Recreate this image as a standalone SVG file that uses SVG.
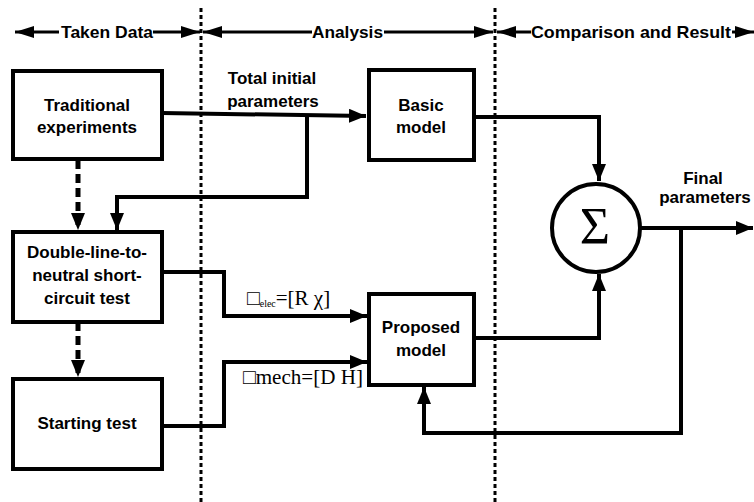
<svg xmlns="http://www.w3.org/2000/svg" width="754" height="502" viewBox="0 0 754 502">
<style>
.box{fill:#fff;stroke:#000;stroke-width:4}
.t{font-family:"Liberation Sans",Arial,sans-serif;font-weight:bold;font-size:17px;fill:#000;text-anchor:middle}
.h{font-family:"Liberation Sans",Arial,sans-serif;font-weight:bold;font-size:17px;fill:#000}
.s{font-family:"Liberation Serif","Times New Roman",serif;fill:#000}
.c{fill:none;stroke:#000;stroke-width:4}
.d{fill:none;stroke:#000;stroke-width:5;stroke-dasharray:9 5}
.hl{fill:none;stroke:#000;stroke-width:3}
.v{fill:none;stroke:#000;stroke-width:3;stroke-dasharray:4 3}
</style>
<defs>
<marker id="a" markerUnits="userSpaceOnUse" markerWidth="18" markerHeight="14" refX="17" refY="7" orient="auto"><path d="M0,0 L17,7 L0,14 z" fill="#000"/></marker>
<marker id="ha" markerUnits="userSpaceOnUse" markerWidth="20" markerHeight="12" refX="19" refY="6" orient="auto"><path d="M0,0 L19,6 L0,12 z" fill="#000"/></marker>
</defs>
<rect width="754" height="502" fill="#fff"/>
<g id="dividers">
<line class="v" x1="201" y1="8" x2="201" y2="502"/>
<line class="v" x1="495" y1="8" x2="495" y2="502"/>
</g>
<g id="header">
<line class="hl" x1="59" y1="32" x2="15" y2="32" marker-end="url(#ha)"/>
<text class="h" x="61" y="38" textLength="92" lengthAdjust="spacingAndGlyphs">Taken Data</text>
<line class="hl" x1="153" y1="32" x2="200" y2="32" marker-end="url(#ha)"/>
<line class="hl" x1="312" y1="32" x2="203" y2="32" marker-end="url(#ha)"/>
<text class="h" x="312" y="38" textLength="71" lengthAdjust="spacingAndGlyphs">Analysis</text>
<line class="hl" x1="384" y1="32" x2="493" y2="32" marker-end="url(#ha)"/>
<line class="hl" x1="531" y1="32" x2="497" y2="32" marker-end="url(#ha)"/>
<text class="h" x="531" y="38" textLength="200" lengthAdjust="spacingAndGlyphs">Comparison and Result</text>
<line class="hl" x1="732" y1="32" x2="754" y2="32" marker-end="url(#ha)"/>
</g>
<g id="connectors">
<path class="c" d="M162,113 L366,116" marker-end="url(#a)"/>
<path class="c" d="M307,115 V197 H117 V230" marker-end="url(#a)"/>
<path class="d" d="M78,160 V230" marker-end="url(#a)"/>
<path class="d" d="M78,322 V377" marker-end="url(#a)"/>
<path class="c" d="M162,272 H224 V316 H367" marker-end="url(#a)"/>
<path class="c" d="M162,426 H224 V362 H367" marker-end="url(#a)"/>
<path class="c" d="M474,117 H599 V181" marker-end="url(#a)"/>
<path class="c" d="M474,338 H599 V274" marker-end="url(#a)"/>
<path class="c" d="M640,228 H753" marker-end="url(#a)"/>
<path class="c" d="M681,228 V433 H424 V387" marker-end="url(#a)"/>
</g>
<g id="labels">
<text class="t" x="272" y="84">Total initial</text>
<text class="t" x="273" y="107">parameters</text>
<text class="t" x="703" y="184">Final</text>
<text class="t" x="705" y="203">parameters</text>
<text class="s" x="247" y="305" font-size="21">□<tspan font-size="10" dy="2">elec</tspan><tspan dy="-2">=[R χ]</tspan></text>
<text class="s" x="243" y="384" font-size="21" textLength="120" lengthAdjust="spacingAndGlyphs">□mech=[D H]</text>
</g>
<g id="traditional">
<rect class="box" x="13" y="71" width="149" height="88"/>
<text class="t" x="87" y="111">Traditional</text>
<text class="t" x="87" y="133">experiments</text>
</g>
<g id="double">
<rect class="box" x="13" y="232" width="149" height="90"/>
<text class="t" x="87" y="258">Double-line-to-</text>
<text class="t" x="87" y="281">neutral short-</text>
<text class="t" x="87" y="304">circuit test</text>
</g>
<g id="starting">
<rect class="box" x="13" y="379" width="149" height="90"/>
<text class="t" x="87" y="429">Starting test</text>
</g>
<g id="basic">
<rect class="box" x="369" y="70" width="105" height="90"/>
<text class="t" x="421" y="111">Basic</text>
<text class="t" x="421" y="133">model</text>
</g>
<g id="proposed">
<rect class="box" x="369" y="294" width="105" height="91"/>
<text class="t" x="421" y="333">Proposed</text>
<text class="t" x="421" y="356">model</text>
</g>
<g id="sum">
<circle cx="596" cy="228" r="44" fill="#fff" stroke="#000" stroke-width="4"/>
<text class="s" x="595" y="244" font-size="52" text-anchor="middle">Σ</text>
</g>
</svg>
